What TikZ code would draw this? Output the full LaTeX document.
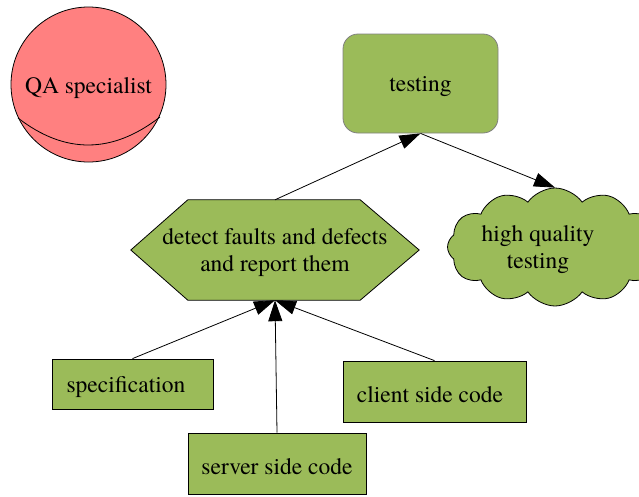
\documentclass[tikz,border=0pt]{standalone}
\usepackage{fontspec}
\setmainfont{TeX Gyre Termes}
\usetikzlibrary{shapes.symbols,arrows.meta}
\definecolor{gfill}{RGB}{155,187,89}
\definecolor{rfill}{RGB}{255,128,128}
\begin{document}
\begin{tikzpicture}[x=1pt,y=-1pt,
  every node/.style={font=\rmfamily\fontsize{23.5}{27}\selectfont, align=center},
  txt/.style={yshift=-3pt},
  gbox/.style={draw=black, fill=gfill, line width=0.8pt, inner sep=0pt},
  conn/.style={line width=0.8pt, -{Triangle[length=21pt,width=14pt]}},
  link/.style={line width=0.8pt}]
\useasboundingbox (0,0) rectangle (639,496);
% QA specialist
\node[circle, draw=black, fill=rfill, line width=0.8pt, minimum size=155pt, inner sep=0pt] (qa) at (88.5,84.5) {};
\draw[link] (18,118) .. controls (65,154.3) and (112.3,154) .. (160,117);
\node[txt] (qat) at (88.5,85) {QA specialist};
% testing
\node[gbox, draw=gray, rounded corners=15pt, minimum width=155pt, minimum height=99pt] (testing) at (420.5,83.5) {};
\node[txt] (testingt) at (420.5,83.5) {testing};
% hexagon
\node[minimum width=288pt, minimum height=100pt, inner sep=0pt] (hex) at (275,250) {};
\filldraw[fill=gfill, draw=black, line width=0.8pt]
  (hex.west) -- ([xshift=57pt]hex.north west) -- ([xshift=-59pt]hex.north east)
  -- (hex.east) -- ([xshift=-59pt]hex.south east) -- ([xshift=57pt]hex.south west) -- cycle;
\node[txt] (hext) at (hex.center) {detect faults and defects\\and report them};
% cloud
\node[gbox, cloud, cloud puffs=12, cloud puff arc=110, cloud ignores aspect, minimum width=215pt, minimum height=118pt] (cloud) at (555,247) {};
\node[txt] (cloudt) at (538,247) {high quality\\testing};
% bottom boxes
\node[gbox, minimum width=161pt, minimum height=50pt] (spec) at (132.5,384) {};
\node[txt] (spect) at (126,384) {specification};
\node[gbox, minimum width=183pt, minimum height=61pt] (client) at (434.5,391.5) {};
\node[txt] (clientt) at (430,392) {client side code};
\node[gbox, minimum width=178pt, minimum height=61pt] (server) at (277,463.5) {};
\node[txt] (servert) at (277,463.5) {server side code};
% connectors
\draw[conn] (hex.north) -- (testing.south);
\draw[conn] (testing.south) -- (cloud.north);
\draw[conn] (spec.north) -- (hex.south);
\draw[conn] (server.north) -- (hex.south);
\draw[conn] (client.north) -- (hex.south);
\end{tikzpicture}
\end{document}
